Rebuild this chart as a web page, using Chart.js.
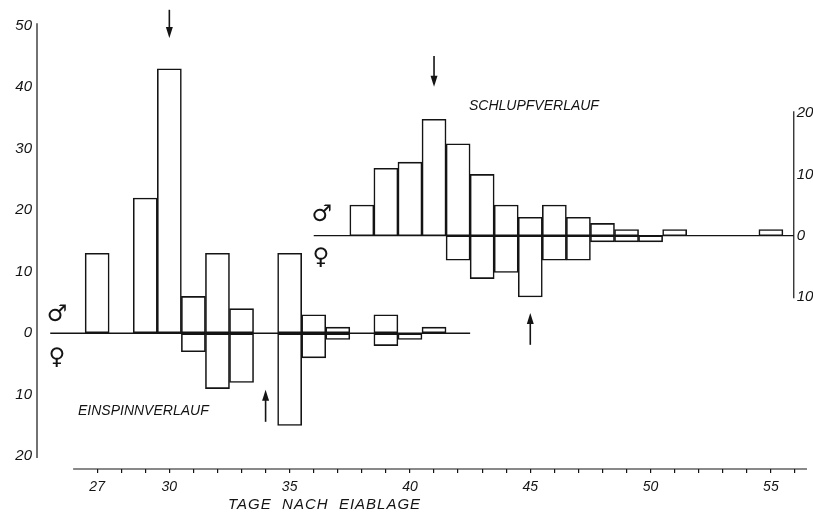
<!DOCTYPE html>
<html>
<head>
<meta charset="utf-8">
<script src="https://cdn.jsdelivr.net/npm/chart.js@4"></script>
<style>
  body { margin: 0; background: #fff; }
  #wrap { width: 813px; height: 515px; }
</style>
</head>
<body>
<div id="wrap"><canvas id="chart"></canvas></div>
<script>
// Einspinnverlauf (left scale), males up, females down
const einDays   = [27, 28, 29, 30, 31, 32, 33, 34, 35, 36, 37, 38, 39, 40, 41, 42];
const einMale   = [13,  0, 22, 43,  6, 13,  4,  0, 13,  3,  1,  0,  3,  0,  1,  0];
const einFemale = [ 0,  0,  0,  0,  3,  9,  8,  0, 15,  4,  1,  0,  2,  1,  0,  0];

// Schlupfverlauf (right scale)
const schDays   = [38, 39, 40, 41, 42, 43, 44, 45, 46, 47, 48, 49, 50, 51, 52, 53, 54, 55];
const schMale   = [ 5, 11, 12, 19, 15, 10,  5,  3,  5,  3,  2,  1,  0,  1,  0,  0,  0,  1];
const schFemale = [ 0,  0,  0,  0,  4,  7,  6, 10,  4,  4,  1,  1,  1,  0,  0,  0,  0,  0];

// axes
const xTicks = [27, 28, 29, 30, 31, 32, 33, 34, 35, 36, 37, 38, 39, 40, 41, 42,
                43, 44, 45, 46, 47, 48, 49, 50, 51, 52, 53, 54, 55, 56];
const xLabels = [27, 30, 35, 40, 45, 50, 55];
const leftTicks = [-20, -10, 0, 10, 20, 30, 40, 50];
const rightTicks = [-10, 0, 10, 20];

// baselines (from / to day) and arrow marks (day, from, to)
const einBaseline = [25.05, 42.5];
const schBaseline = [36, 55.95];
const rightAxisDay = 55.95;
const arrows = [
  { day: 30, from: 52.6, to: 48.0, axis: 'yLeft' },
  { day: 34, from: -14.4, to: -9.2, axis: 'yLeft' },
  { day: 41, from: 29.3, to: 24.3, axis: 'yRight' },
  { day: 45, from: -17.8, to: -12.6, axis: 'yRight' }
];

const FONT = '"Liberation Sans", Arial, sans-serif';
const INK = '#141414';

function toPoints(days, values, sign) {
  return days.map((d, i) => ({ x: d, y: values[i] === 0 ? null : sign * values[i] }));
}

function barSet(data, axis) {
  return {
    type: 'bar',
    data: data,
    yAxisID: axis,
    backgroundColor: '#fff',
    borderColor: INK,
    borderWidth: 1.6,
    borderSkipped: false,
    barPercentage: 1,
    categoryPercentage: 1,
    grouped: false
  };
}

function baseLine(ends, axis) {
  return {
    type: 'line',
    data: ends.map(d => ({ x: d, y: 0 })),
    yAxisID: axis,
    borderColor: INK,
    borderWidth: 1.3,
    pointRadius: 0
  };
}

// Axes lines, right scale, arrows, texts
const overlay = {
  id: 'overlay',
  afterDraw(chart) {
    const { ctx, chartArea } = chart;
    const { x, yLeft, yRight } = chart.scales;
    ctx.save();
    ctx.strokeStyle = INK;
    ctx.fillStyle = INK;
    ctx.lineWidth = 1.2;

    // x axis line
    ctx.beginPath();
    ctx.moveTo(x.getPixelForValue(26), chartArea.bottom);
    ctx.lineTo(chartArea.right, chartArea.bottom);
    ctx.stroke();

    // left y axis line
    ctx.beginPath();
    ctx.moveTo(chartArea.left, yLeft.getPixelForValue(50.4));
    ctx.lineTo(chartArea.left, yLeft.getPixelForValue(-20.3));
    ctx.stroke();

    // right y axis
    const rx = x.getPixelForValue(rightAxisDay);
    ctx.beginPath();
    ctx.moveTo(rx, yRight.getPixelForValue(20.3));
    ctx.lineTo(rx, yRight.getPixelForValue(-10.2));
    ctx.stroke();
    ctx.font = 'italic 15px ' + FONT;
    ctx.textAlign = 'left';
    ctx.textBaseline = 'middle';
    rightTicks.forEach(v => {
      ctx.fillText(String(Math.abs(v)), rx + 3, yRight.getPixelForValue(v));
    });

    // arrows
    ctx.lineWidth = 1.6;
    arrows.forEach(a => {
      const ax = x.getPixelForValue(a.day);
      const y0 = chart.scales[a.axis].getPixelForValue(a.from);
      const y1 = chart.scales[a.axis].getPixelForValue(a.to);
      const dir = y1 > y0 ? 1 : -1;
      ctx.beginPath();
      ctx.moveTo(ax, y0);
      ctx.lineTo(ax, y1 - dir * 8);
      ctx.stroke();
      ctx.beginPath();
      ctx.moveTo(ax, y1);
      ctx.lineTo(ax - 3.5, y1 - dir * 11);
      ctx.lineTo(ax + 3.5, y1 - dir * 11);
      ctx.closePath();
      ctx.fill();
    });

    // series labels
    ctx.font = 'italic 14px ' + FONT;
    ctx.textAlign = 'left';
    ctx.fillText('EINSPINNVERLAUF', 78, yLeft.getPixelForValue(-12.7));
    ctx.fillText('SCHLUPFVERLAUF', 469, yRight.getPixelForValue(21.2));

    // gender symbols
    ctx.font = 'bold 23px "DejaVu Sans"';
    ctx.textAlign = 'center';
    ctx.fillText('\u2642', x.getPixelForValue(25.33), yLeft.getPixelForValue(3));
    ctx.fillText('\u2640', x.getPixelForValue(25.33), yLeft.getPixelForValue(-4));
    ctx.fillText('\u2642', x.getPixelForValue(36.34), yRight.getPixelForValue(3.4));
    ctx.fillText('\u2640', x.getPixelForValue(36.3), yRight.getPixelForValue(-3.7));

    // x axis title
    ctx.font = 'italic 15px ' + FONT;
    ctx.letterSpacing = '1px';
    ctx.textAlign = 'center';
    ctx.fillText('TAGE  NACH  EIABLAGE', x.getPixelForValue(36.45), 505);
    ctx.restore();
  }
};

new Chart(document.getElementById('chart'), {
  data: {
    datasets: [
      barSet(toPoints(einDays, einMale, 1), 'yLeft'),
      barSet(toPoints(einDays, einFemale, -1), 'yLeft'),
      barSet(toPoints(schDays, schMale, 1), 'yRight'),
      barSet(toPoints(schDays, schFemale, -1), 'yRight'),
      baseLine(einBaseline, 'yLeft'),
      baseLine(schBaseline, 'yRight')
    ]
  },
  options: {
    responsive: true,
    maintainAspectRatio: false,
    animation: false,
    layout: { padding: { top: 20, right: 6, left: 0, bottom: 0 } },
    plugins: { legend: { display: false }, tooltip: { enabled: false } },
    scales: {
      x: {
        type: 'linear',
        min: 24.5,
        max: 56.5,
        offset: false,
        afterBuildTicks: s => { s.ticks = xTicks.map(v => ({ value: v })); },
        afterFit: s => { s.height = 46; },
        grid: { offset: false, drawOnChartArea: false, drawTicks: true, tickLength: 4, tickColor: INK, lineWidth: 1.2 },
        border: { display: false },
        ticks: {
          autoSkip: false,
          maxRotation: 0,
          padding: 6,
          color: INK,
          font: { family: FONT, style: 'italic', size: 14 },
          callback: v => xLabels.includes(v) ? String(v) : ''
        }
      },
      yLeft: {
        type: 'linear',
        position: 'left',
        min: -22.07,
        max: 50.94,
        afterBuildTicks: s => { s.ticks = leftTicks.map(v => ({ value: v })); },
        afterFit: s => { s.width = 37; },
        grid: { drawOnChartArea: false, drawTicks: false },
        border: { display: false },
        ticks: {
          padding: 5,
          color: INK,
          font: { family: FONT, style: 'italic', size: 15 },
          callback: v => String(Math.abs(v))
        }
      },
      yRight: {
        type: 'linear',
        display: false,
        min: -38.06,
        max: 35.19
      }
    }
  },
  plugins: [overlay]
});
</script>
</body>
</html>
